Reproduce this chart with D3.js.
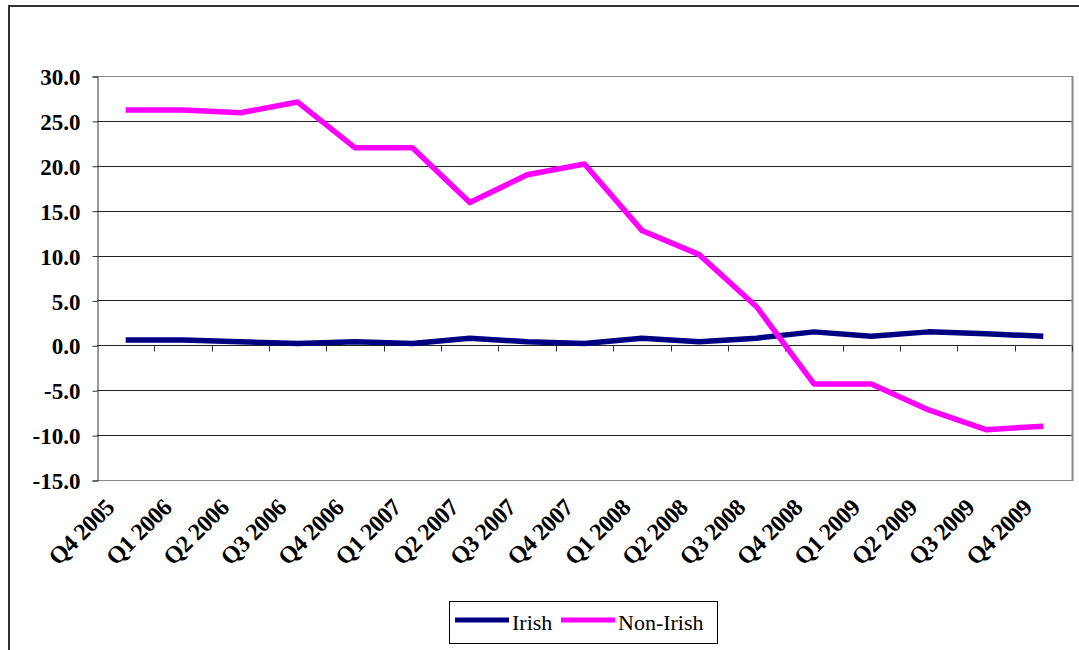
<!DOCTYPE html>
<html>
<head>
<meta charset="utf-8">
<script src="https://cdn.jsdelivr.net/npm/d3@7"></script>
<style>
  body { margin: 0; background: #fff; }
</style>
</head>
<body>
<svg id="chart" width="1079" height="650"></svg>
<script>
'use strict';

var quarters = ["Q4 2005","Q1 2006","Q2 2006","Q3 2006","Q4 2006","Q1 2007","Q2 2007","Q3 2007","Q4 2007",
                "Q1 2008","Q2 2008","Q3 2008","Q4 2008","Q1 2009","Q2 2009","Q3 2009","Q4 2009"];
var irish    = [0.6, 0.6, 0.4, 0.2, 0.4, 0.2, 0.8, 0.4, 0.2, 0.8, 0.4, 0.8, 1.5, 1.0, 1.5, 1.3, 1.0];
var nonIrish = [26.2, 26.2, 25.9, 27.1, 22.0, 22.0, 15.9, 19.0, 20.2, 12.8, 10.1, 4.3, -4.3, -4.3, -7.2, -9.4, -9.0];
var yTicks   = [30, 25, 20, 15, 10, 5, 0, -5, -10, -15];

var seriesList = [
  { name: "Irish", values: irish, color: "#000080" },
  { name: "Non-Irish", values: nonIrish, color: "#ff00ff" }
];

var serif = "'Liberation Serif', 'Times New Roman', Times, 'DejaVu Serif', serif";

var svg = d3.select("#chart");

var plotLeft = 97, plotRight = 1072, plotTop = 76, plotBottom = 480;

// outer frame (only top and left visible)
svg.append("path")
  .attr("d", "M9,650 V6 H1079")
  .attr("fill", "none")
  .attr("stroke", "#333")
  .attr("stroke-width", 2);

var x = d3.scaleBand().domain(quarters).range([plotLeft, plotRight]);
var y = d3.scaleLinear().domain([-15, 30]).range([plotBottom, plotTop]);

// gridlines
svg.append("g").selectAll("line")
  .data(yTicks)
  .enter().append("line")
  .attr("x1", plotLeft).attr("x2", plotRight)
  .attr("y1", function(d) { return Math.round(y(d)) + 0.5; })
  .attr("y2", function(d) { return Math.round(y(d)) + 0.5; })
  .attr("stroke", function(d) { return (d === 30 || d === -15) ? "#888" : "#222"; })
  .attr("stroke-width", 1);

// right border of plot
svg.append("line")
  .attr("x1", plotRight + 0.5).attr("x2", plotRight + 0.5)
  .attr("y1", plotTop).attr("y2", plotBottom + 1)
  .attr("stroke", "#888").attr("stroke-width", 2);

// y axis
var yAxis = d3.axisLeft(y).tickValues(yTicks).tickSize(5).tickPadding(12)
  .tickFormat(function(d) { return d.toFixed(1); });
var yg = svg.append("g").attr("transform", "translate(" + (plotLeft + 0.5) + ",0.5)").call(yAxis);
yg.attr("font-family", null).attr("font-size", null);
yg.select(".domain").attr("stroke", "#333");
yg.selectAll(".tick line").attr("stroke", "#333");
yg.selectAll("text")
  .attr("dy", "0.35em")
  .style("font-family", serif)
  .style("font-size", "23px")
  .style("font-weight", "bold")
  .attr("fill", "#000");

// x axis ticks at zero line, between categories
var xg = svg.append("g").attr("transform", "translate(0," + (Math.round(y(0)) + 0.5) + ")");
var boundaries = quarters.map(function(q) { return x(q) + x.bandwidth(); });
xg.selectAll("line.tk")
  .data(boundaries)
  .enter().append("line")
  .attr("class", "tk")
  .attr("x1", function(d) { return Math.round(d) + 0.5; })
  .attr("x2", function(d) { return Math.round(d) + 0.5; })
  .attr("y1", 0).attr("y2", 6)
  .attr("stroke", "#333");

// x labels, rotated
svg.append("g").selectAll("text")
  .data(quarters)
  .enter().append("text")
  .attr("transform", function(d) {
    return "translate(" + (x(d) + x.bandwidth() / 2 - 10) + "," + (plotBottom + 29) + ") rotate(-45)";
  })
  .attr("text-anchor", "end")
  .style("font-family", serif)
  .style("font-size", "24px")
  .style("font-weight", "bold")
  .style("letter-spacing", "-0.5px")
  .text(function(d) { return d; });

// lines
var line = d3.line()
  .x(function(d, i) { return x(quarters[i]) + x.bandwidth() / 2; })
  .y(function(d) { return y(d); });

svg.append("g").selectAll("path")
  .data(seriesList)
  .enter().append("path")
  .attr("d", function(s) { return line(s.values); })
  .attr("fill", "none")
  .attr("stroke", function(s) { return s.color; })
  .attr("stroke-width", 5.5)
  .attr("stroke-linejoin", "round");

// legend
var lg = svg.append("g").attr("transform", "translate(449,601)");
lg.append("rect")
  .attr("x", 0.5).attr("y", 0.5).attr("width", 268).attr("height", 42)
  .attr("fill", "#fff").attr("stroke", "#000").attr("stroke-width", 1);
var legendX = [6, 112];
seriesList.forEach(function(s, i) {
  lg.append("line")
    .attr("x1", legendX[i]).attr("x2", legendX[i] + 54)
    .attr("y1", 19).attr("y2", 19)
    .attr("stroke", s.color).attr("stroke-width", 5);
  lg.append("text")
    .attr("x", legendX[i] + 57).attr("y", 29)
    .style("font-family", serif)
    .style("font-size", "22px")
    .text(s.name);
});
</script>
</body>
</html>
